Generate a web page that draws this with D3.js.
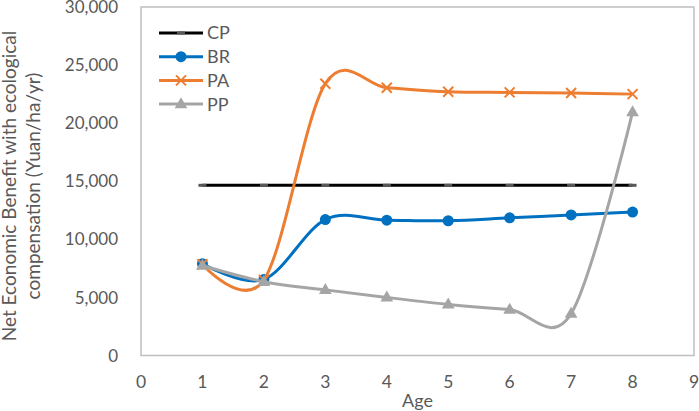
<!DOCTYPE html>
<html><head><meta charset="utf-8">
<script src="https://cdn.jsdelivr.net/npm/d3@7"></script>
<style>body{margin:0;background:#fff}svg{display:block}text{font-family:Lato,"Open Sans",sans-serif;fill:#595959}</style>
</head><body><svg id="c" width="699" height="411"></svg>
<script>
const ages = [1,2,3,4,5,6,7,8];
const cp = [14650,14650,14650,14650,14650,14650,14650,14650];
const br = [7900,6550,11700,11650,11600,11850,12100,12350];
const pa = [7850,6500,23400,23050,22700,22650,22600,22500];
const pp = [7750,6350,5650,5000,4400,3950,3600,20950];
const seriesNames = ["CP","BR","PA","PP"];
const xTicks = [0,1,2,3,4,5,6,7,8,9];
const yTicks = [0,5000,10000,15000,20000,25000,30000];
const colors = {CP:"#000000",BR:"#0070C0",PA:"#ED7D31",PP:"#A5A5A5"};
const series = [{name:"CP",v:cp,smooth:false},{name:"BR",v:br,smooth:true},{name:"PA",v:pa,smooth:true},{name:"PP",v:pp,smooth:true}];

const svg = d3.select("#c");
const L=141,R=694,T=7,B=355.5;
const x = d3.scaleLinear().domain([0,9]).range([L,R]);
const y = d3.scaleLinear().domain([0,30000]).range([B,T]);

svg.append("rect").attr("x",L).attr("y",T).attr("width",R-L).attr("height",B-T)
  .attr("fill","none").attr("stroke","#BFBFBF").attr("stroke-width",1.5);

const fmt = d3.format(",");
svg.selectAll(".yl").data(yTicks).enter().append("text")
  .attr("x",118).attr("y",d=>y(d)).attr("dy","0.36em").attr("text-anchor","end")
  .attr("font-size",17).text(d=>fmt(d));
svg.selectAll(".xl").data(xTicks).enter().append("text")
  .attr("x",d=>x(d)).attr("y",382).attr("dy","0.36em").attr("text-anchor","middle")
  .attr("font-size",17.5).text(d=>d);
svg.append("text").attr("x",(L+R)/2).attr("y",401).attr("dy","0.36em").attr("text-anchor","middle")
  .attr("font-size",18).text("Age");
const yt = svg.append("text").attr("transform","translate(0,186) rotate(-90)").attr("text-anchor","middle").attr("font-size",19);
yt.append("tspan").attr("x",0).attr("y",16).text("Net Economic Benefit with ecological");
yt.append("tspan").attr("x",0).attr("y",40).text("compensation (Yuan/ha/yr)");

function marker(g,name,cx,cy){
  const c=colors[name];
  if(name==="CP") g.append("rect").attr("x",cx-4).attr("y",cy-1.5).attr("width",8).attr("height",3).attr("fill","#595959");
  else if(name==="BR") g.append("circle").attr("cx",cx).attr("cy",cy).attr("r",5.5).attr("fill",c);
  else if(name==="PA") g.append("path").attr("d",`M${cx-5},${cy-5}L${cx+5},${cy+5}M${cx-5},${cy+5}L${cx+5},${cy-5}`).attr("stroke",c).attr("stroke-width",2);
  else g.append("path").attr("d",d3.symbol(d3.symbolTriangle,70)()).attr("transform",`translate(${cx},${cy+0.5})`).attr("fill",c);
}

series.forEach(s=>{
  const g=svg.append("g");
  const line=d3.line().x((d,i)=>x(ages[i])).y(d=>y(d)).curve(s.smooth?d3.curveCardinal.tension(0):d3.curveLinear);
  g.append("path").attr("d",line(s.v)).attr("fill","none").attr("stroke",colors[s.name]).attr("stroke-width",3).attr("stroke-linejoin","round");
  s.v.forEach((d,i)=>marker(g,s.name,x(ages[i]),y(d)));
});

// legend
seriesNames.forEach((n,i)=>{
  const cy=33+i*23.7;
  const g=svg.append("g");
  g.append("line").attr("x1",159).attr("x2",203).attr("y1",cy).attr("y2",cy).attr("stroke",colors[n]).attr("stroke-width",3);
  marker(g,n,181,cy);
  g.append("text").attr("x",207).attr("y",cy).attr("dy","0.36em").attr("font-size",18).text(n);
});
</script></body></html>
